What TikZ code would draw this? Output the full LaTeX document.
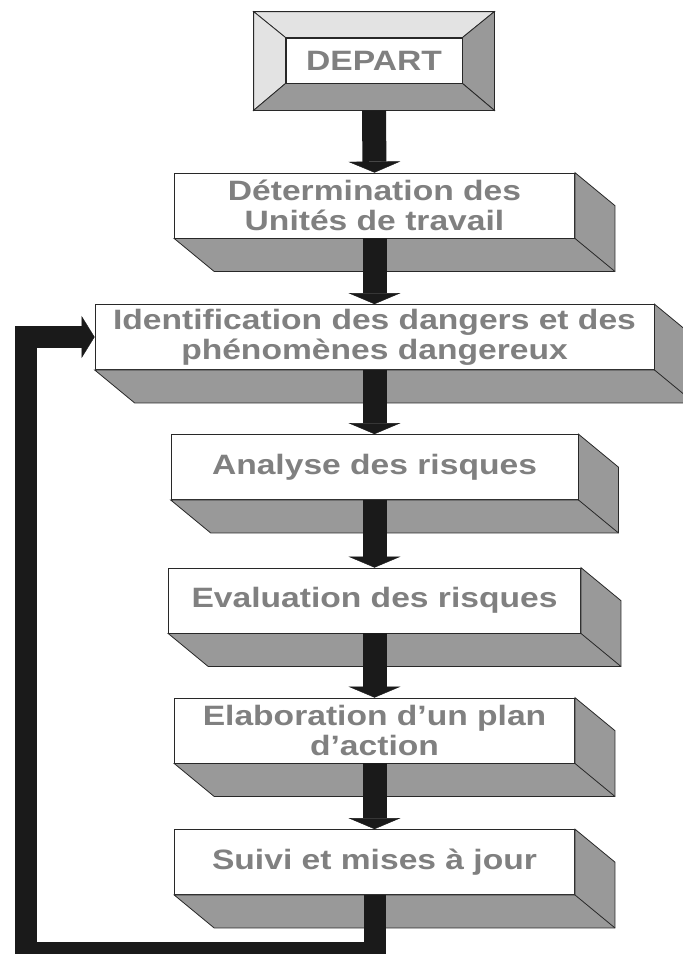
\documentclass[tikz,border=0pt]{standalone}
\usepackage{fontspec}
\setmainfont{Liberation Sans}[FakeStretch=1.2]
\usepackage{tikz}
\usetikzlibrary{calc,arrows.meta,positioning}
\definecolor{slabgray}{RGB}{153,153,153}
\definecolor{bevellight}{RGB}{227,227,227}
\definecolor{labelgray}{RGB}{128,128,128}
\definecolor{arrowblack}{RGB}{26,26,26}
\definecolor{edgeline}{RGB}{40,40,40}
\tikzset{
  face/.style={draw=edgeline, line width=0.8pt, fill=white, minimum height=65pt,
    inner sep=0pt, align=center, text=labelgray,
    font=\bfseries\fontsize{28}{30}\selectfont},
  slab/.style={draw=edgeline, line width=0.8pt, fill=slabgray},
  bevel/.style={draw=edgeline, line width=0.8pt},
  flow/.style={draw=arrowblack, line width=24pt,
    -{Triangle[width=52pt,length=11pt,line width=0.4pt]}},
  backflow/.style={draw=arrowblack, line width=22pt, line join=miter,
    -{Triangle[width=42pt,length=13pt,line width=0.4pt]}}
}
% depth of a step box
\newcommand{\slab}[1]{%
  \filldraw[slab] (#1.south west) -- (#1.south east) -- (#1.north east)
    -- ++(40,33) -- ($(#1.south east)+(40,33)$) -- ($(#1.south west)+(40,33)$) -- cycle;
  \draw[slab] (#1.south east) -- ++(40,33);}

\begin{document}
\begin{tikzpicture}[x=1pt, y=-1pt]
\clip (0,0) rectangle (683,954);
% start
\node[face, minimum width=176pt, minimum height=45pt] (start) at (374,60.5) {DEPART};
\node[bevel, minimum width=240pt, minimum height=98pt, inner sep=0pt] (startframe) at (374,61) {};
\filldraw[bevel, fill=bevellight] (startframe.north west) -- (startframe.north east) -- (start.north east) -- (start.north west) -- cycle;
\filldraw[bevel, fill=bevellight] (startframe.north west) -- (start.north west) -- (start.south west) -- (startframe.south west) -- cycle;
\filldraw[bevel, fill=slabgray] (startframe.north east) -- (startframe.south east) -- (start.south east) -- (start.north east) -- cycle;
\filldraw[bevel, fill=slabgray] (startframe.south west) -- (startframe.south east) -- (start.south east) -- (start.south west) -- cycle;
% steps
\node[face, minimum width=400pt] (units) at (374.5,205.5) {Détermination des\\Unités de travail};
\node[face, minimum width=559pt] (dangers) at (374.5,337) {Identification des dangers et des\\phénomènes dangereux};
\node[face, minimum width=407pt] (analyse) at (374.5,467) {Analyse des risques};
\node[face, minimum width=412pt] (evaluation) at (374.5,600.5) {Evaluation des risques};
\node[face, minimum width=400pt] (plan) at (374.5,730.5) {Elaboration d’un plan\\d’action};
\node[face, minimum width=400pt] (suivi) at (374.5,862) {Suivi et mises à jour};
\slab{units}
\slab{dangers}
\slab{analyse}
\slab{evaluation}
\slab{plan}
\slab{suivi}
% arrows
\draw[flow] (startframe.south) -- (units.north);
\draw[flow] (units.south) -- (dangers.north);
\draw[flow] (dangers.south) -- (analyse.north);
\draw[flow] (analyse.south) -- (evaluation.north);
\draw[flow] (evaluation.south) -- (plan.north);
\draw[flow] (plan.south) -- (suivi.north);
\coordinate (lowleft) at (26,953);
\draw[backflow] (suivi.south) |- (lowleft) |- (dangers.west);
\end{tikzpicture}
\end{document}
